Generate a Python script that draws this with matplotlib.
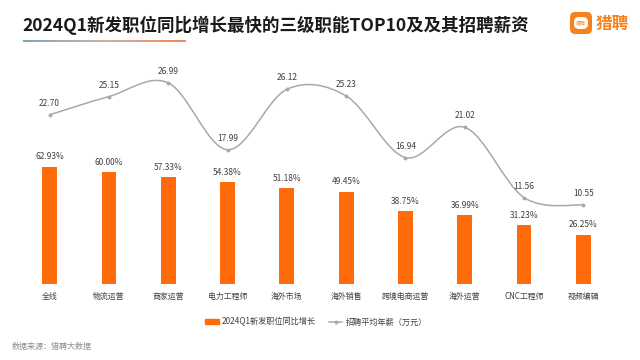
import numpy as np
import matplotlib
matplotlib.use("Agg")
import matplotlib.pyplot as plt
from matplotlib.colors import LinearSegmentedColormap
from matplotlib.lines import Line2D
from matplotlib.patches import FancyBboxPatch, Patch, PathPatch
from matplotlib.path import Path

plt.rcParams["font.family"] = ["Noto Sans CJK SC", "DejaVu Sans"]

W, H = 640, 360
TITLE = "2024Q1新发职位同比增长最快的三级职能TOP10及及其招聘薪资"
CATEGORIES = ["全线", "物流运营", "商家运营", "电力工程师", "海外市场",
              "海外销售", "跨境电商运营", "海外运营", "CNC工程师", "视频编辑"]
GROWTH = [62.93, 60.00, 57.33, 54.38, 51.18, 49.45, 38.75, 36.99, 31.23, 26.25]
SALARY = [22.70, 25.15, 26.99, 17.99, 26.12, 25.23, 16.94, 21.02, 11.56, 10.55]
BAR_NAME = "2024Q1新发职位同比增长"
LINE_NAME = "招聘平均年薪（万元）"
SOURCE = "数据来源：猎聘大数据"

ORANGE = "#FF6A0A"
GRAY = "#A9A9A9"
TEXT = "#404040"


def fx(px):
    return px / W


def fy(py):
    return 1 - py / H


def smooth_path(x, y):
    # Excel 风格平滑线: Catmull-Rom -> 三次贝塞尔
    x = np.asarray(x, float)
    y = np.asarray(y, float)
    verts = [(x[0], y[0])]
    codes = [Path.MOVETO]
    n = len(x)
    for i in range(n - 1):
        i0, i3 = max(i - 1, 0), min(i + 2, n - 1)
        c1 = (x[i] + (x[i + 1] - x[i0]) / 6, y[i] + (y[i + 1] - y[i0]) / 6)
        c2 = (x[i + 1] - (x[i3] - x[i]) / 6, y[i + 1] - (y[i3] - y[i]) / 6)
        verts += [c1, c2, (x[i + 1], y[i + 1])]
        codes += [Path.CURVE4] * 3
    return Path(verts, codes)


fig = plt.figure(figsize=(W / 100, H / 100), dpi=100, facecolor="white")
ax = fig.add_axes([fx(20), fy(283.5), fx(593), 223 / H])
ax2 = ax.twinx()
ax2.set_position(ax.get_position())

pos = np.arange(len(CATEGORIES))
ax.bar(pos, GROWTH, width=0.25, color=ORANGE)
for p, v in zip(pos, GROWTH):
    ax.annotate(f"{v:.2f}%", (p, v), xytext=(0, 7), textcoords="offset points",
                ha="center", va="center", fontsize=6, color=TEXT)

ax2.add_patch(PathPatch(smooth_path(pos, SALARY), fc="none", ec=GRAY, lw=1.1))
ax2.plot(pos, SALARY, ls="none", marker="o", ms=1.8, color=GRAY)
for p, v in zip(pos, SALARY):
    ax2.annotate(f"{v:.2f}", (p, v), xytext=(0, 8.3), textcoords="offset points",
                 ha="center", va="center", fontsize=6, color=TEXT)

ax.set_xlim(-0.5, len(CATEGORIES) - 0.5)
ax.set_ylim(0, 120)
ax2.set_ylim(0, 30)
ax.set_xticks(pos, CATEGORIES, fontsize=5.7, color=TEXT)
ax.tick_params(axis="x", length=0, pad=6)
ax.set_yticks([])
ax2.set_yticks([])
for a in (ax, ax2):
    for s in a.spines.values():
        s.set_visible(False)

handles = [Patch(color=ORANGE, label=BAR_NAME),
           Line2D([], [], color=GRAY, lw=1.1, marker="o", ms=1.8, label=LINE_NAME)]
fig.legend(handles=handles, loc="center", bbox_to_anchor=(fx(316), fy(322)), ncol=2,
           frameon=False, fontsize=5.9, labelcolor=TEXT, handlelength=1.6, handleheight=0.6,
           handletextpad=0.35, columnspacing=1.7, borderpad=0)

# 标题 + 渐变下划线
fig.text(fx(22), fy(25), TITLE, fontsize=12.6, fontweight="bold", color="#1A1A1A",
         ha="left", va="center")
cmap = LinearSegmentedColormap.from_list("rule", ["#7FA6B8", "#C9B4A6", "#F08A50"])
rule = fig.add_axes([fx(23), fy(41.8), fx(163), 1.4 / H])
rule.imshow(np.linspace(0, 1, 200)[None, :], aspect="auto", cmap=cmap)
rule.axis("off")

# logo
fig.add_artist(FancyBboxPatch((fx(570), fy(34)), fx(22), 22 / H,
                              boxstyle="round,pad=0,rounding_size=0.008", mutation_aspect=W / H,
                              transform=fig.transFigure, fc="#F5821F", ec="none"))
fig.add_artist(FancyBboxPatch((fx(574), fy(29)), fx(14), 12 / H,
                              boxstyle="round,pad=0,rounding_size=0.008", mutation_aspect=W / H,
                              transform=fig.transFigure, fc="white", ec="none"))
fig.text(fx(581), fy(23), "猎聘", fontsize=3.6, color="#F5821F", ha="center", va="center")
fig.text(fx(596), fy(24), "猎聘", fontsize=12, fontweight="bold", color="#F5821F",
         ha="left", va="center")

fig.text(fx(12), fy(346), SOURCE, fontsize=5.8, color="#8C8C8C", ha="left", va="center")

fig.savefig("out.png", dpi=100)
